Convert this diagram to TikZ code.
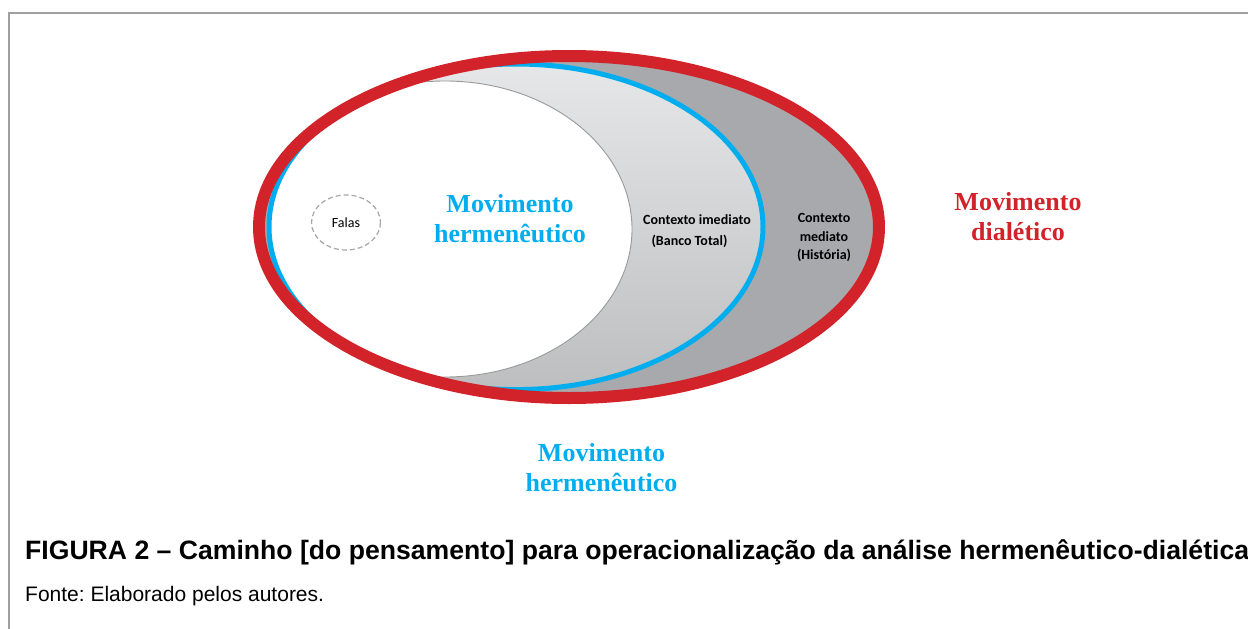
\documentclass[tikz,border=0pt]{standalone}
\usepackage{fontspec}
\setmainfont{Liberation Serif}
\newfontfamily\calibrifont{Carlito}
\newfontfamily\arialfont{Liberation Sans}
\usepackage{tikz}
\usetikzlibrary{positioning}
\usepackage{xcolor}
\definecolor{hermblue}{HTML}{00AEEF}
\definecolor{dialred}{HTML}{D2232A}
\definecolor{mediatogray}{HTML}{A7A9AC}
\definecolor{imedtop}{HTML}{E6E7E8}
\definecolor{imedbottom}{HTML}{BCBEC0}
\frenchspacing

\begin{document}
\begin{tikzpicture}[
  x=1pt,y=-1pt,
  frame/.style={draw=gray!75,line width=1.6pt},
  ring/.style={draw=dialred,line width=12pt},
  herm/.style={draw=hermblue,line width=5pt},
  falasring/.style={draw=gray!70,line width=1.2pt,dash pattern=on 5pt off 3pt},
  movlabel/.style={font=\bfseries\fontsize{26}{30}\selectfont,align=center,inner sep=0pt},
  ctxlabel/.style={font=\calibrifont\bfseries\fontsize{14}{18.3}\selectfont,align=center,inner sep=0pt},
  caption/.style={font=\arialfont\bfseries\fontsize{26.6}{30}\selectfont,inner sep=0pt,anchor=base west},
  source/.style={font=\arialfont\fontsize{21}{25}\selectfont,inner sep=0pt,anchor=base west}
]
\useasboundingbox (0,0) rectangle (1248,629);
\draw[frame] (9,640) -- (9,13) -- (1260,13);

% outer ring and its grey band
\coordinate (dial) at (569,227);
\coordinate (hermc) at (516,226.8);
\coordinate (falasc) at (445,229);
\fill[mediatogray] (dial) ellipse [x radius=310,y radius=171];
\shade[top color=imedtop,bottom color=imedbottom] (hermc) ellipse [x radius=247,y radius=162.8];
\begin{scope}
  \clip (hermc) ellipse [x radius=247,y radius=162.8];
  \fill[white,draw=gray!80,line width=0.9pt] (falasc) ellipse [x radius=187,y radius=148];
\end{scope}
\draw[herm] (hermc) ellipse [x radius=247,y radius=162.8];
\draw[ring] (dial) ellipse [x radius=310,y radius=171];

\draw[falasring] (346,222.5) ellipse [x radius=34.5,y radius=27.5];
\node[font=\calibrifont\fontsize{14}{16}\selectfont,inner sep=0pt] (falas) at (346,223) {Falas};

\node[movlabel,text=hermblue] (movherm) at (510,218.4) {Movimento\\hermenêutico};
\node[ctxlabel] (ctximed) at (697,219.3) {Contexto imediato};
\node[ctxlabel] (bancototal) at (689.5,241.7) {(Banco Total)};
\node[ctxlabel] (ctxmed) at (824,237.5) {Contexto\\mediato\\(História)};
\node[movlabel,text=dialred] (movdial) at (1018,216.5) {Movimento\\dialético};
\node[movlabel,text=hermblue] (movhermb) at (601.5,467.5) {Movimento\\hermenêutico};

\node[caption] (figcap) at (25,559) {FIGURA 2 – Caminho [do pensamento] para operacionalização da análise hermenêutico-dialética};
\node[source] (fonte) at (25,601.5) {Fonte: Elaborado pelos autores.};
\end{tikzpicture}
\end{document}
